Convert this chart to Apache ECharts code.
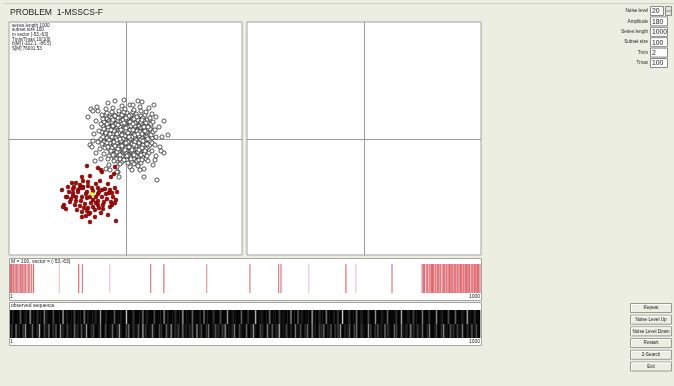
<!DOCTYPE html>
<html>
<head>
<meta charset="utf-8">
<script src="https://cdn.jsdelivr.net/npm/echarts@6.0.0/dist/echarts.min.js"></script>
<style>
  html, body { margin: 0; padding: 0; background: #eceee2; }
  #main { width: 674px; height: 386px; }
</style>
</head>
<body>
<div id="main"></div>
<script>
// ---- data ----
const titleText = 'PROBLEM  1-MSSCS-F';
const infoLines = ['series length 1000', 'subset size 100', 'm vector [-53,-63]', 'Tmin/Tmax 10/100', 'b[M] [-102.1, -86.5]', 'S[M] 76001.53'];

// grey cloud (dense core + looser rim)
const greyCore = [
  [-12, 24], [-7, 25], [-3, 23], [1, 26], [5, 24], [10, 25], [15, 23], [-16, 22],
  [-19, 20], [-14, 21], [-10, 19], [-6, 22], [-2, 20], [2, 21], [6, 19], [9, 22], [13, 20], [17, 21], [21, 19],
  [-21, 17], [-17, 18], [-12, 16], [-8, 18], [-5, 17], [-1, 18], [3, 16], [6, 18], [11, 17], [14, 15], [18, 18], [23, 16],
  [-23, 13], [-18, 14], [-15, 12], [-11, 14], [-7, 13], [-4, 15], [0, 13], [4, 14], [7, 12], [10, 14], [13, 13], [16, 15], [20, 13], [25, 12],
  [-20, 10], [-16, 11], [-13, 9], [-9, 11], [-6, 10], [-2, 11], [1, 9], [5, 10], [8, 11], [12, 9], [15, 11], [19, 10], [22, 9],
  [-24, 7], [-19, 8], [-15, 7], [-11, 6], [-8, 8], [-4, 7], [-1, 6], [3, 8], [6, 7], [10, 6], [13, 8], [17, 7], [21, 6], [27, 7],
  [-21, 4], [-17, 3], [-13, 5], [-10, 3], [-6, 4], [-3, 2], [1, 4], [4, 3], [8, 5], [11, 3], [14, 4], [18, 2], [23, 4],
  [-25, 0], [-19, 1], [-15, -1], [-12, 1], [-8, 0], [-5, 2], [-1, 0], [2, 1], [6, -1], [9, 1], [12, 0], [16, 1], [20, -1], [26, 1],
  [-22, -3], [-18, -2], [-14, -4], [-10, -2], [-7, -3], [-3, -4], [0, -2], [4, -3], [7, -4], [11, -2], [15, -3], [19, -4], [24, -2],
  [-20, -6], [-16, -7], [-12, -5], [-9, -7], [-5, -6], [-2, -8], [2, -6], [5, -7], [9, -5], [13, -7], [17, -6], [22, -8],
  [-17, -10], [-13, -11], [-10, -9], [-6, -11], [-3, -10], [1, -12], [4, -9], [8, -11], [11, -10], [15, -12], [20, -10],
  [-15, -14], [-11, -15], [-7, -13], [-4, -15], [0, -14], [3, -16], [7, -14], [10, -15], [14, -13], [18, -15], [23, -14],
  [-12, -18], [-8, -19], [-4, -17], [0, -19], [4, -18], [8, -20], [12, -18], [17, -19],
  [-9, -22], [-4, -23], [1, -21], [6, -23], [11, -22], [15, -24],
  [-17, 16], [-10, 15], [-3, 19], [4, 17], [12, 19], [-13, 13], [-6, 12], [2, 12], [9, 13], [17, 12],
  [-18, 9], [-11, 9], [-3, 9], [4, 9], [11, 8], [19, 8], [-14, 2], [-8, 3], [-1, 3], [6, 2], [13, 3], [20, 3],
  [-16, -4], [-9, -4], [-1, -5], [6, -5], [13, -4], [-14, -9], [-7, -8], [0, -9], [6, -9], [14, -9],
  [-9, -13], [-2, -12], [5, -12], [12, -13], [-6, -20], [2, -16], [10, -17], [-21, -9], [24, -6], [25, 15], [-20, 24], [19, 24],
  [-18, 12], [-14, 17], [-8, 14], [-1, 15], [5, 13], [9, 16], [15, 17], [20, 16], [-22, 10], [-12, 8], [-7, 6], [0, 8],
  [7, 9], [14, 7], [18, 12], [24, 10], [-20, 6], [-16, 5], [-9, 5], [-4, 4], [2, 6], [9, 4], [16, 5], [21, 2],
  [-23, 2], [-17, -1], [-10, 1], [-3, 0], [4, 0], [10, -1], [15, -1], [22, 0], [-19, -4], [-12, -3], [-5, -2], [2, -3],
  [9, -3], [17, -2], [21, -5], [-18, -8], [-11, -7], [-4, -7], [3, -8], [10, -7], [16, -9], [19, -12], [-15, -12], [-8, -10],
  [-1, -11], [6, -11], [13, -11], [-13, -16], [-6, -16], [1, -17], [8, -16], [15, -16], [-10, -20], [-2, -21], [5, -20], [13, -21],
  [-8, 21], [-4, 24], [3, 23], [8, 20], [11, 22], [16, 19], [-13, 19], [-11, 23], [0, 21], [-15, 9], [-5, 9], [0, 11],
  [-9, -1], [0, -4], [8, -6], [12, 5], [-6, 0], [3, 2], [7, 15], [-2, 16], [-19, 15], [22, 12], [25, 4], [-24, -5],
  [26, -4], [20, -20], [-17, -17], [-2, 27], [7, 27], [-22, 17]
];
const greyRim = [
  [-25, 15], [-23, 20], [-27, 8], [-28, -3], [-26, -10], [-22, -15], [-18, -20], [-12, -22], [-6, -25], [2, -24],
  [8, -25], [16, -21], [21, -17], [26, -12], [29, -6], [30, 2], [29, 9], [27, 17], [24, 21], [20, 27],
  [15, 28], [8, 29], [-1, 30], [-7, 28], [-14, 27], [-19, 26], [-24, 24], [-30, 18], [-32, 5], [-33, -2],
  [-30, -14], [-25, -20], [-17, -26], [-9, -28], [4, -28], [12, -27], [22, -22], [30, -17], [34, -8], [36, 2],
  [33, 12], [30, 22], [23, 31], [14, 32], [4, 34], [-4, 33], [-13, 31], [-20, 30], [-28, 28], [-34, 12],
  [-36, -6], [-31, -22], [-20, -30], [-8, -33], [6, -31], [18, -30], [27, -26], [38, -14], [42, 4], [38, 18],
  [28, 34], [12, 38], [-2, 39], [-18, 36], [-38, 22], [-35, 30],
  [35, -12], [31, -41], [18, -38], [14, -31], [-7, -38], [-9, -33], [-16, -31], [-33, 28], [-29, 32],
  [-11, 38], [7, 34], [16, 37], [26, 25], [-34, -8], [29, -21]
];
const redPoints = [
  [-39, -27], [-28, -29], [-24, -33], [-11, -28], [-12, -35], [-15, -38], [-25, -31], [-44, -38], [-36, -37], [-43, -42],
  [-38, -43], [-26, -42], [-46, -46], [-54, -44], [-50, -44], [-64, -51], [-53, -50], [-46, -49], [-43, -48], [-34, -49],
  [-28, -49], [-24, -51], [-21, -50], [-16, -51], [-11, -49], [-9, -53], [-17, -54], [-14, -54], [-13, -58], [-59, -58],
  [-53, -54], [-50, -58], [-44, -58], [-39, -59], [-36, -58], [-33, -61], [-28, -55], [-24, -58], [-19, -60], [-15, -63],
  [-10, -61], [-62, -66], [-56, -63], [-51, -66], [-46, -67], [-41, -65], [-38, -69], [-33, -68], [-30, -64], [-28, -66],
  [-23, -66], [-14, -66], [-11, -64], [-63, -68], [-60, -70], [-49, -71], [-44, -73], [-39, -72], [-36, -74], [-31, -71],
  [-27, -69], [-23, -70], [-44, -78], [-40, -77], [-31, -78], [-18, -76], [-36, -83], [-10, -82], [-53, -57], [-48, -51],
  [-39, -53], [-52, -48], [-57, -53], [-30, -45], [-40, -55], [-45, -62], [-20, -55], [-28, -62], [-50, -62], [-38, -47],
  [-18, -45], [-33, -52], [-42, -69], [-25, -74], [-55, -60], [-48, -53], [-30, -58], [-22, -63], [-58, -48], [-35, -64],
  [-43, -49], [-27, -53], [-37, -75], [-16, -68], [-60, -58]
];
const bestPoint = [[-34, -55]];

// strip of chosen positions (index 1..1000) and their shade
const markIdx = [
  2, 4, 7, 9, 12, 15, 17, 20, 23, 26, 28, 31, 34, 37, 40, 43, 47, 51,
  106, 147, 155, 213, 300, 328, 419, 511, 572, 577, 636, 715, 736, 813, 877,
  880, 882, 885, 887, 889, 892, 894, 897, 899, 901, 904, 906, 909, 911, 913, 916, 918, 921, 923, 925,
  928, 930, 933, 935, 937, 940, 942, 945, 947, 949, 952, 954, 957, 959, 961, 964, 966, 969, 971, 973,
  976, 978, 981, 983, 985, 988, 990, 993, 995, 997, 1000
];
const markShade = [
  1, 0, 1, 1, 0, 1, 3, 1, 0, 1, 1, 0, 1, 3, 1, 0, 1, 0,
  2, 0, 1, 2, 1, 0, 3, 1, 1, 1, 2, 0, 2, 1, 1,
  1, 0, 2, 1, 0, 3, 1, 0, 0, 1, 3, 0, 1, 0, 1, 0, 2, 1, 0, 1,
  1, 0, 3, 0, 1, 0, 1, 0, 0, 1, 0, 3, 1, 0, 1, 0, 0, 1, 1, 0,
  1, 0, 3, 0, 1, 0, 0, 1, 0, 1, 0
];
const shadeColors = ['#e8464c', '#c95e68', '#e8b8c0', '#dc7f88'];
const stripLabel = 'M = 100, vector = (-53,-63)';

// observed sequence, grey level 0 (black) .. 9 (white), two rows
const obsTop = [
  0,1,0,0,4,0,1,0,6,0,0,2,0,0,5,1,0,0,3,0,
  0,0,7,0,1,0,0,3,0,0,0,5,0,1,0,0,2,0,6,0,
  1,0,0,0,4,0,0,1,0,8,0,0,2,0,0,0,5,0,1,0,
  0,3,0,0,0,6,0,1,0,0,2,0,0,7,0,0,0,4,0,0,
  1,0,5,0,0,0,2,0,0,3,0,0,6,0,1,0,0,0,4,0,
  0,2,0,0,8,0,0,1,0,0,5,0,0,0,3,0,1,0,0,6,
  0,0,4,0,1,0,0,0,7,0,0,2,0,0,5,0,0,1,0,3,
  0,9,0,0,2,0,0,5,0,1,0,0,3,0,0,6,0,0,1,0,
  4,0,0,0,2,0,7,0,0,1,0,3,0,0,0,5,0,0,2,0,
  0,6,0,1,0,0,3,0,0,4,0,0,1,0,7,0,0,2,0,0
];
const obsBottom = [
  2,0,5,1,0,3,6,0,1,4,0,2,7,0,3,1,5,0,2,4,
  0,6,2,0,3,1,0,5,2,0,4,1,6,0,2,3,0,1,5,0,
  3,0,1,4,0,2,6,1,0,3,5,0,2,1,4,0,7,2,0,1,
  5,1,0,3,2,0,4,1,6,0,2,3,0,5,1,0,2,4,0,6,
  1,3,0,2,5,0,1,4,2,0,3,6,0,1,2,5,0,3,1,0,
  4,0,2,6,1,0,3,2,0,5,1,4,0,2,7,0,1,3,0,2,
  0,5,1,3,0,2,4,0,6,1,0,3,2,5,0,1,4,0,2,3,
  6,0,2,1,4,0,3,5,0,2,1,0,6,3,0,2,4,1,0,5,
  2,1,0,4,3,0,5,1,2,0,6,2,0,3,1,4,0,2,5,0,
  1,3,0,2,6,1,0,4,2,0,3,1,5,0,2,0,4,1,3,0
];

const controlLabels = ['Noise level', 'Amplitude', 'Series length', 'Subset size', 'Tmin', 'Tmax'];
const controlValues = ['20', '180', '1000', '100', '2', '100'];
const buttonLabels = ['Repeat', 'Noise Level Up', 'Noise Level Down', 'Restart', '2-Search', 'Exit'];

// ---- build ----
const FONT = 'Liberation Sans, Arial, sans-serif';
const greyPoints = greyCore.concat(greyRim);

const markData = markIdx.map((v, i) => ({
  value: [v, 0.5],
  itemStyle: {color: shadeColors[markShade[i] == null ? 1 : markShade[i]]}
}));
const obsData = [];
obsTop.forEach((v, i) => obsData.push([i, 1, v]));
obsBottom.forEach((v, i) => obsData.push([i, 0, v]));

const chart = echarts.init(document.getElementById('main'), null, {renderer: 'canvas'});

function scatterAxis(gridIndex, min, max) {
  return {
    gridIndex, type: 'value', min, max,
    axisLine: {show: true, onZero: true, lineStyle: {color: '#9c9c9c', width: 1}},
    axisTick: {show: false}, axisLabel: {show: false}, splitLine: {show: false}
  };
}
function hiddenAxis(gridIndex, min, max) {
  return {gridIndex, type: 'value', min, max, show: false, splitLine: {show: false}};
}

const graphics = [];
graphics.push({type: 'line', shape: {x1: 3, y1: 3.5, x2: 674, y2: 3.5}, style: {stroke: '#cfd0c6', lineWidth: 1}, z: 0});
[[9, 258, 472, 42], [9, 302, 472, 43]].forEach(([x, y, w, h]) => {
  graphics.push({type: 'rect', shape: {x: x + 0.5, y: y + 0.5, width: w, height: h},
    style: {fill: '#fff', stroke: '#a4a4a4', lineWidth: 1}, z: -10});
});
const smallText = (x, y, text, align, size) => ({
  type: 'text', x, y, z: 100,
  style: {text, fill: '#222', font: (size || 5) + 'px ' + FONT, align: align || 'left', verticalAlign: 'middle'}
});
infoLines.forEach((t, i) => graphics.push(smallText(12, 25.5 + i * 4.6, t, 'left', 4.6)));
graphics.push(smallText(11, 261.5, stripLabel, 'left', 5));
graphics.push(smallText(10, 296.5, '1', 'left', 5));
graphics.push(smallText(480, 296.5, '1000', 'right', 5));
graphics.push(smallText(11, 305.5, 'observed sequence', 'left', 5));
graphics.push(smallText(10, 341.5, '1', 'left', 5));
graphics.push(smallText(480, 341.5, '1000', 'right', 5));

controlLabels.forEach((lab, i) => {
  const cy = 11 + i * 10.4;
  graphics.push(smallText(648, cy, lab, 'right', 4.6));
  const w = i === 0 ? 13 : 17;
  graphics.push({type: 'rect', shape: {x: 650.5, y: cy - 4.5, width: w, height: 9},
    style: {fill: '#fff', stroke: '#8a8a8a', lineWidth: 1}, z: 5});
  graphics.push(smallText(652, cy + 0.5, controlValues[i], 'left', 6.8));
  if (i === 0) {
    graphics.push({type: 'rect', shape: {x: 665.5, y: cy - 4.5, width: 6, height: 9},
      style: {fill: '#e4e4dc', stroke: '#8a8a8a', lineWidth: 1}, z: 5});
    graphics.push({type: 'line', shape: {x1: 665.5, y1: cy, x2: 671.5, y2: cy}, style: {stroke: '#8a8a8a', lineWidth: 1}, z: 6});
  }
});
buttonLabels.forEach((lab, i) => {
  const y = 303 + i * 11.7;
  graphics.push({type: 'rect', shape: {x: 630.5, y: y + 0.5, width: 41, height: 9},
    style: {fill: '#eceee2', stroke: '#9a9a94', lineWidth: 1}, z: 5});
  graphics.push({type: 'polyline', shape: {points: [[631.5, y + 9], [631.5, y + 1.5], [671, y + 1.5]]},
    style: {stroke: '#ffffff', lineWidth: 1, fill: null}, z: 6});
  graphics.push(smallText(651, y + 5, lab, 'center', 4.6));
});

const option = {
  backgroundColor: '#eceee2',
  animation: false,
  title: {text: titleText, left: 10, top: 8, padding: 0,
    textStyle: {fontSize: 8.6, fontWeight: 'normal', color: '#1e1e1e', fontFamily: FONT}},
  grid: [
    {left: 9, top: 22, width: 233, height: 233, show: true, backgroundColor: '#fff', borderColor: '#a4a4a4', borderWidth: 1},
    {left: 247, top: 22, width: 234, height: 233, show: true, backgroundColor: '#fff', borderColor: '#a4a4a4', borderWidth: 1},
    {left: 10, top: 264, width: 470, height: 29, show: false},
    {left: 10, top: 310, width: 470, height: 28, show: false}
  ],
  xAxis: [
    scatterAxis(0, -117, 116),
    scatterAxis(1, -117, 117),
    hiddenAxis(2, 1, 1000),
    hiddenAxis(3, 0, 200)
  ],
  yAxis: [
    scatterAxis(0, -116, 117),
    scatterAxis(1, -116, 117),
    hiddenAxis(2, 0, 1),
    hiddenAxis(3, 0, 2)
  ],
  graphic: {elements: graphics},
  series: [
    {
      name: 'series', type: 'scatter', xAxisIndex: 0, yAxisIndex: 0,
      data: greyPoints, symbol: 'circle', symbolSize: 4.2,
      itemStyle: {color: '#ffffff', borderColor: '#2a2a2a', borderWidth: 0.8, opacity: 1},
      silent: true, z: 2
    },
    {
      name: 'subset', type: 'scatter', xAxisIndex: 0, yAxisIndex: 0,
      data: redPoints, symbol: 'circle', symbolSize: 3.8,
      itemStyle: {color: '#b80000', borderColor: '#4a0000', borderWidth: 0.6, opacity: 1},
      silent: true, z: 3
    },
    {
      name: 'mean', type: 'scatter', xAxisIndex: 0, yAxisIndex: 0,
      data: bestPoint, symbol: 'circle', symbolSize: 3.8,
      itemStyle: {color: '#ffff00', borderColor: '#b0a000', borderWidth: 0.5},
      silent: true, z: 4
    },
    {name: 'empty', type: 'scatter', xAxisIndex: 1, yAxisIndex: 1, data: []},
    {
      name: 'marks', type: 'scatter', xAxisIndex: 2, yAxisIndex: 2, data: markData, silent: true,
      symbol: 'rect', symbolSize: [1.2, 29], z: 5
    },
    {
      name: 'observed', type: 'custom', xAxisIndex: 3, yAxisIndex: 3, data: obsData, silent: true, z: 5,
      renderItem: (params, api) => {
        const a = api.coord([api.value(0), api.value(1)]);
        const c = api.coord([api.value(0) + 1, api.value(1) + 1]);
        const g = Math.round(api.value(2) * 24);
        const w = c[0] - a[0];
        const children = [{type: 'rect', shape: {x: a[0], y: c[1], width: w + 0.3, height: a[1] - c[1]}, style: {fill: '#050505'}}];
        if (api.value(2) > 0) {
          children.push({type: 'rect', shape: {x: a[0] + w * 0.3, y: c[1], width: w * 0.55, height: a[1] - c[1]},
            style: {fill: 'rgb(' + g + ',' + g + ',' + g + ')'}});
        }
        return {type: 'group', children};
      }
    }
  ]
};
chart.setOption(option);
</script>
</body>
</html>
